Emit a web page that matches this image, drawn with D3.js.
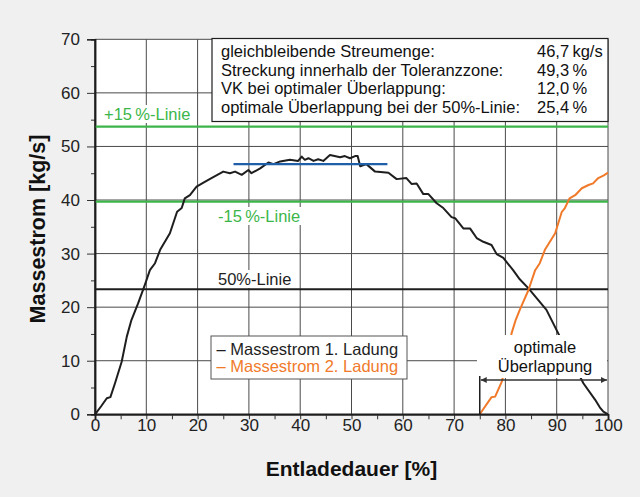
<!DOCTYPE html>
<html>
<head>
<meta charset="utf-8">
<script src="https://cdn.jsdelivr.net/npm/d3@7"></script>
<style>
  html, body { margin: 0; padding: 0; background: #f0f0f0; }
  svg { display: block; font-family: "Liberation Sans", Arial, sans-serif; }
</style>
</head>
<body>
<svg id="chart" width="640" height="497"></svg>
<script>
// Entladedauer [%] / Massestrom [kg/s]
const ladung1 = [
  [0, 0], [1.2, 1.5], [2.3, 3.0], [3.0, 3.2], [3.9, 5.8], [5.2, 9.8], [6.2, 14.5],
  [7.1, 17.6], [8.4, 20.7], [9.7, 24.1], [10.7, 26.9], [11.7, 28.2], [12.7, 30.7],
  [14.6, 33.8], [16.0, 37.8], [16.9, 38.5], [17.5, 40.3], [18.5, 40.9], [19.8, 42.5],
  [21.4, 43.4], [22.7, 44.1], [25.0, 45.3], [26.3, 45.0], [27.3, 45.3], [28.6, 44.7],
  [29.9, 45.6], [30.5, 45.0], [32.2, 45.9], [33.8, 47.0], [34.8, 46.7], [36.1, 47.2],
  [38.0, 47.5], [39.6, 47.3], [40.3, 48.1], [40.9, 47.5], [41.6, 47.8], [42.6, 47.3],
  [43.5, 47.6], [44.5, 47.3], [45.8, 48.4], [47.8, 48.0], [48.7, 48.2], [49.7, 47.8],
  [50.7, 48.2], [51.2, 48.2], [51.7, 46.3], [52.9, 46.7], [54.6, 45.3], [57.2, 45.1],
  [58.8, 43.9], [60.7, 44.1], [61.7, 43.0], [62.7, 43.1], [64.0, 41.1], [65.0, 41.1],
  [66.6, 39.4], [67.9, 38.5], [69.5, 36.8], [70.2, 36.6], [71.8, 34.7], [73.1, 34.7],
  [74.4, 32.9], [75.7, 32.2], [77.3, 31.6], [78.3, 29.9], [79.6, 29.2], [81.5, 26.9],
  [82.8, 25.2], [84.5, 23.5], [88.0, 19.5], [90.3, 15.1], [92.7, 10.5], [95.2, 5.8],
  [97.5, 2.7], [98.4, 1.3], [99.1, 0.5], [100, 0]
];
const ladung2 = [
  [75.0, 0], [77.3, 3.2], [78.0, 3.3], [79.3, 6.1], [80.4, 10.5], [81.2, 15.1],
  [82.0, 17.6], [82.8, 19.5], [84.5, 23.2], [85.8, 26.9], [86.7, 28.2], [87.7, 30.7],
  [89.7, 33.8], [91.0, 37.8], [91.6, 38.5], [92.5, 40.3], [93.6, 40.9], [94.9, 42.2],
  [96.2, 42.8], [97.1, 43.1], [98.1, 44.1], [99.2, 44.6], [100, 45.1]
];

const streumenge = 46.7;
const linePlus15 = 53.7;
const lineMinus15 = 39.7;
const line50 = 23.35;
const streumengeRange = [27, 57];
const ueberlappungStart = 75;

const xTicks = [0, 10, 20, 30, 40, 50, 60, 70, 80, 90, 100];
const xMinorTicks = [5, 15, 25, 35, 45, 55, 65, 75, 85, 95];
const yTicks = [0, 10, 20, 30, 40, 50, 60, 70];
const yMinorTicks = [5, 15, 25, 35, 45, 55, 65];

const infoLabels = [
  "gleichbleibende Streumenge:",
  "Streckung innerhalb der Toleranzzone:",
  "VK bei optimaler Überlappung:",
  "optimale Überlappung bei der 50%-Linie:"
];
const infoValues = ["46,7\u2009kg/s", "49,3\u2009%", "12,0\u2009%", "25,4\u2009%"];

const seriesNames = ["\u2013 Massestrom 1. Ladung", "\u2013 Massestrom 2. Ladung"];

const black = "#1e1e1e", orange = "#f07a2a", green = "#3cb64a", blue = "#1f5ea8", grid = "#4a4a4a";

const svg = d3.select("#chart");
const x = d3.scaleLinear().domain([0, 100]).range([95, 608]);
const y = d3.scaleLinear().domain([0, 70]).range([414.3, 39.3]);

// plot area
svg.append("rect")
  .attr("x", x(0)).attr("y", y(70))
  .attr("width", x(100) - x(0)).attr("height", y(0) - y(70))
  .attr("fill", "#fff");

// grid
svg.append("g").selectAll("line").data(xTicks.slice(1)).enter().append("line")
  .attr("x1", d => x(d)).attr("x2", d => x(d))
  .attr("y1", y(0)).attr("y2", y(70))
  .attr("stroke", grid).attr("stroke-width", 1);
svg.append("g").selectAll("line").data(yTicks.slice(1)).enter().append("line")
  .attr("x1", x(0)).attr("x2", x(100))
  .attr("y1", d => y(d)).attr("y2", d => y(d))
  .attr("stroke", grid).attr("stroke-width", 1);

// axes
svg.append("g")
  .attr("transform", "translate(" + x(0) + ",0)")
  .call(d3.axisLeft(y).tickValues(yTicks).tickSize(8).tickPadding(7).tickFormat(d3.format("d")));
svg.append("g")
  .attr("transform", "translate(" + x(0) + ",0)")
  .call(d3.axisLeft(y).tickValues(yMinorTicks).tickSize(4).tickFormat(""));
const xAxis = svg.append("g")
  .attr("transform", "translate(0," + y(0) + ")")
  .call(d3.axisBottom(x).tickValues(xTicks).tickSize(5).tickFormat(d3.format("d")));
xAxis.selectAll(".tick text").attr("y", 5);
svg.append("g")
  .attr("transform", "translate(0," + y(0) + ")")
  .call(d3.axisBottom(x).tickValues(xMinorTicks).tickSize(5).tickFormat(""));

svg.selectAll(".domain").attr("stroke", black).attr("stroke-width", 1.5);
svg.selectAll(".tick line").attr("stroke", "#333");
svg.selectAll(".tick text").attr("font-size", 17).attr("fill", "#222")
  .attr("font-family", "Liberation Sans, Arial, sans-serif");

// axis titles
svg.append("text")
  .attr("transform", "translate(44.5,229) rotate(-90)")
  .attr("text-anchor", "middle")
  .attr("font-size", 21.5).attr("font-weight", "bold").attr("fill", "#111")
  .text("Massestrom [kg/s]");
svg.append("text")
  .attr("x", x(50)).attr("y", 476)
  .attr("text-anchor", "middle")
  .attr("font-size", 21).attr("font-weight", "bold").attr("fill", "#111")
  .text("Entladedauer [%]");

// reference lines
function hline(v, color, width) {
  svg.append("line")
    .attr("x1", x(0)).attr("x2", x(100))
    .attr("y1", y(v)).attr("y2", y(v))
    .attr("stroke", color).attr("stroke-width", width);
}
hline(linePlus15, green, 2.2);
hline(lineMinus15, green, 2.2);
hline(line50, black, 2);

// labels with white background
function label(txt, lx, ly, color) {
  const t = svg.append("text")
    .attr("x", lx).attr("y", ly)
    .attr("font-size", 16.5).attr("fill", color)
    .text(txt);
  const b = t.node().getBBox();
  svg.insert("rect", function() { return t.node(); })
    .attr("x", b.x - 4).attr("y", b.y)
    .attr("width", b.width + 8).attr("height", b.height)
    .attr("fill", "#fff");
}
label("+15\u2009%-Linie", 104, 120, green);
label("-15\u2009%-Linie", 218, 222, green);
label("50%-Linie", 218, 285, black);

// curves
const line = d3.line().x(d => x(d[0])).y(d => y(d[1]));
svg.append("path").datum(ladung1)
  .attr("d", line).attr("fill", "none")
  .attr("stroke", black).attr("stroke-width", 2).attr("stroke-linejoin", "round");
svg.append("path").datum(ladung2)
  .attr("d", line).attr("fill", "none")
  .attr("stroke", orange).attr("stroke-width", 2).attr("stroke-linejoin", "round");

// constant flow line
svg.append("line")
  .attr("x1", x(streumengeRange[0])).attr("x2", x(streumengeRange[1]))
  .attr("y1", y(streumenge)).attr("y2", y(streumenge))
  .attr("stroke", blue).attr("stroke-width", 2.2);

// info box
svg.append("rect")
  .attr("x", 212).attr("y", 38.5).attr("width", 396).attr("height", 83)
  .attr("fill", "#fff").attr("stroke", black).attr("stroke-width", 1.2);
const info = svg.append("g").attr("font-size", 16.5).attr("fill", "#111");
info.selectAll("text.lab").data(infoLabels).enter().append("text")
  .attr("class", "lab")
  .attr("x", 221).attr("y", (d, i) => 57 + i * 18.5)
  .text(d => d);
info.selectAll("text.val").data(infoValues).enter().append("text")
  .attr("class", "val")
  .attr("x", 537).attr("y", (d, i) => 57 + i * 18.5)
  .text(d => d);

// legend
svg.append("rect")
  .attr("x", 211).attr("y", 336).attr("width", 196).attr("height", 43)
  .attr("fill", "#fff").attr("stroke", "#555").attr("stroke-width", 1);
svg.selectAll("text.leg").data(seriesNames).enter().append("text")
  .attr("class", "leg")
  .attr("x", 216.5).attr("y", (d, i) => 354.5 + i * 17.4)
  .attr("font-size", 16.5)
  .attr("fill", (d, i) => i === 0 ? black : orange)
  .text(d => d);

// optimale Überlappung annotation
svg.append("rect")
  .attr("x", 477).attr("y", 335).attr("width", 130).attr("height", 43)
  .attr("fill", "#fff");
svg.append("text")
  .attr("x", 545).attr("y", 353).attr("text-anchor", "middle")
  .attr("font-size", 16.5).attr("fill", "#111").text("optimale");
svg.append("text")
  .attr("x", 545).attr("y", 372).attr("text-anchor", "middle")
  .attr("font-size", 16.5).attr("fill", "#111").text("Überlappung");
svg.append("line")
  .attr("x1", x(ueberlappungStart)).attr("x2", x(ueberlappungStart))
  .attr("y1", 376).attr("y2", y(0))
  .attr("stroke", black).attr("stroke-width", 1.5);
const defs = svg.append("defs");
defs.append("marker")
  .attr("id", "arr").attr("viewBox", "0 0 10 10")
  .attr("refX", 10).attr("refY", 5)
  .attr("markerWidth", 10).attr("markerHeight", 6)
  .attr("markerUnits", "userSpaceOnUse")
  .attr("orient", "auto-start-reverse")
  .append("path").attr("d", "M0,0L10,5L0,10Z").attr("fill", "#333");
svg.append("line")
  .attr("x1", x(ueberlappungStart) + 1).attr("x2", x(100) - 1)
  .attr("y1", 380).attr("y2", 380)
  .attr("stroke", "#333").attr("stroke-width", 1.5)
  .attr("marker-start", "url(#arr)").attr("marker-end", "url(#arr)");

// redraw plot frame on top
svg.append("line").attr("x1", x(0)).attr("x2", x(0)).attr("y1", y(0)).attr("y2", y(70))
  .attr("stroke", black).attr("stroke-width", 1.5);
svg.append("line").attr("x1", x(0)).attr("x2", x(100)).attr("y1", y(0)).attr("y2", y(0))
  .attr("stroke", black).attr("stroke-width", 1.5);
</script>
</body>
</html>
